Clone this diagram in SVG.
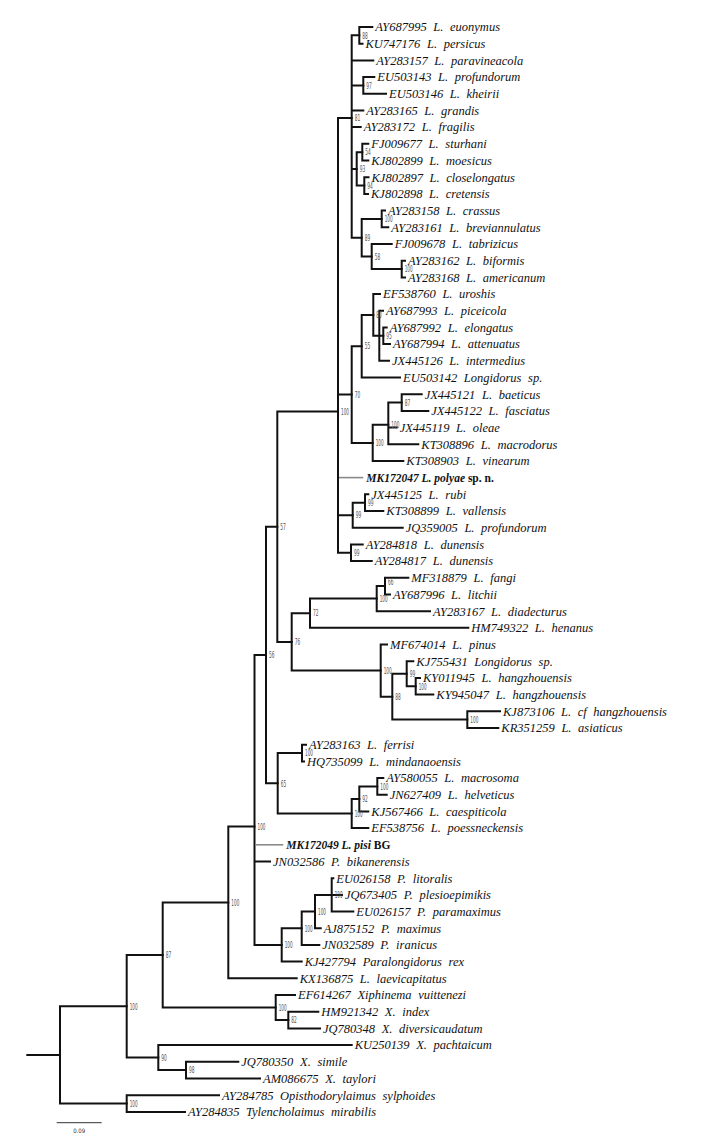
<svg xmlns="http://www.w3.org/2000/svg" width="726" height="1141" viewBox="0 0 726 1141">
<style>
.b{fill:none;stroke:#111;stroke-width:2;stroke-linecap:square}
.g{fill:none;stroke:#8a8a8a;stroke-width:1.6}
.t{font-family:"Liberation Serif","Times New Roman",serif;font-style:italic;font-size:12.5px;word-spacing:3.5px;fill:#111}
.k{font-family:"Liberation Serif","Times New Roman",serif;font-style:italic;font-weight:bold;font-size:11.5px;fill:#111}
.k tspan{font-style:normal}
.s{font-family:"DejaVu Sans Condensed","DejaVu Sans",sans-serif;font-size:9px;fill:#555}
.sc{font-family:"DejaVu Sans Condensed","DejaVu Sans",sans-serif;font-size:6px;fill:#333}
</style>
<rect width="726" height="1141" fill="#fff"/>
<g id="connectors">
<path class="b" d="M27.3,1054.9H60M60,1006.3V1103.5M60,1006.3H126.7M60,1103.5H126.7"/>
<path class="b" d="M126.7,1095.2V1111.9M126.7,1095.2H219M126.7,1111.9H185"/>
<path class="b" d="M126.7,955V1057.6M126.7,955H162.7M126.7,1057.6H158.3"/>
<path class="b" d="M158.3,1045.1V1070.1M158.3,1045.1H351.7M158.3,1070.1H186"/>
<path class="b" d="M186,1061.8V1078.5M186,1061.8H238.3M186,1078.5H260"/>
<path class="b" d="M162.7,902.5V1007.5M162.7,902.5H228.3M162.7,1007.5H275.7"/>
<path class="b" d="M275.7,995V1020.1M275.7,995H295M275.7,1020.1H288.3"/>
<path class="b" d="M288.3,1011.7V1028.4M288.3,1011.7H318.3M288.3,1028.4H320"/>
<path class="b" d="M228.3,826.6V978.3M228.3,826.6H254.5M228.3,978.3H296.7"/>
<path class="b" d="M254.5,655V945M254.5,655H266M254.5,861.5H270M254.5,945H281.7"/>
<path class="g" d="M255.5,844.8H283.3"/>
<path class="b" d="M281.7,928.3V961.6M281.7,928.3H301.7M281.7,961.6H301.7"/>
<path class="b" d="M301.7,911.6V945M301.7,911.6H315M301.7,945H319.3"/>
<path class="b" d="M315,894.9V928.3M315,894.9H331.7M315,928.3H320.7"/>
<path class="b" d="M331.7,878.2V911.6M331.7,878.2H333.3M331.7,894.9H342M331.7,911.6H353.3"/>
<path class="b" d="M266,526.8V783.3M266,526.8H277.3M266,783.3H277.7"/>
<path class="b" d="M277.7,753V813.5M277.7,753H302M277.7,813.5H351.7"/>
<path class="b" d="M302,744.7V761.4M302,744.7H306M302,761.4H304"/>
<path class="b" d="M351.7,798.9V828.1M351.7,798.9H359.3M351.7,828.1H368.3"/>
<path class="b" d="M359.3,786.4V811.4M359.3,786.4H377.3M359.3,811.4H368.3"/>
<path class="b" d="M377.3,778.1V794.7M377.3,778.1H383.3M377.3,794.7H386.7"/>
<path class="b" d="M277.3,411.6V641.9M277.3,411.6H338M277.3,641.9H291.7"/>
<path class="b" d="M291.7,613.2V670.6M291.7,613.2H310M291.7,670.6H380.7"/>
<path class="b" d="M310,598.6V627.8M310,598.6H376.7M310,627.8H468.3"/>
<path class="b" d="M376.7,586.1V611.2M376.7,586.1H385M376.7,611.2H430"/>
<path class="b" d="M385,577.8V594.5M385,577.8H408.3M385,594.5H390"/>
<path class="b" d="M380.7,644.5V696.7M380.7,644.5H387M380.7,696.7H392.3"/>
<path class="b" d="M392.3,673.7V719.6M392.3,673.7H406.7M392.3,719.6H467.3"/>
<path class="b" d="M406.7,661.2V686.3M406.7,661.2H413.3M406.7,686.3H415.7"/>
<path class="b" d="M415.7,677.9V694.6M415.7,677.9H420M415.7,694.6H433.3"/>
<path class="b" d="M467.3,711.3V728M467.3,711.3H500M467.3,728H498.3"/>
<path class="b" d="M338,117.9V552.7M338,117.9H351.7M338,394.5H351.7M338,515.2H352.7M338,552.7H351"/>
<path class="g" d="M339,477.6H363.3"/>
<path class="b" d="M351,544.4V561.1M351,544.4H362.7M351,561.1H371.7"/>
<path class="b" d="M352.7,502.7V527.7M352.7,502.7H365M352.7,527.7H402.7"/>
<path class="b" d="M365,494.3V511M365,494.3H368.3M365,511H383.3"/>
<path class="b" d="M351.7,346.2V442.9M351.7,346.2H361.7M351.7,442.9H372.7"/>
<path class="b" d="M372.7,424.8V460.9M372.7,424.8H388.3M372.7,460.9H403.3"/>
<path class="b" d="M388.3,402.5V444.3M388.3,402.5H401.7M388.3,427.6H396.7M388.3,444.3H418.3"/>
<path class="b" d="M401.7,394.2V410.9M401.7,394.2H421.7M401.7,410.9H428.3"/>
<path class="b" d="M361.7,314.9V377.5M361.7,314.9H373.3M361.7,377.5H400"/>
<path class="b" d="M373.3,294V335.8M373.3,294H380M373.3,335.8H379.3"/>
<path class="b" d="M379.3,310.7V360.8M379.3,310.7H383M379.3,335.8H383.3M379.3,360.8H389"/>
<path class="b" d="M383.3,327.4V344.1M383.3,327.4H386.7M383.3,344.1H390"/>
<path class="b" d="M351.7,35.3V237.7M351.7,35.3H359.3M351.7,60.4H373.3M351.7,85.4H363.3M351.7,110.5H363.3M351.7,127.1H360.7M351.7,168.9H356.7M351.7,237.7H361.7"/>
<path class="b" d="M359.3,27V43.7M359.3,27H372.3M359.3,43.7H362.5"/>
<path class="b" d="M363.3,77.1V93.8M363.3,77.1H374.3M363.3,93.8H386"/>
<path class="b" d="M356.7,152.2V185.6M356.7,152.2H362.3M356.7,185.6H364.3"/>
<path class="b" d="M362.3,143.8V160.5M362.3,143.8H368.3M362.3,160.5H368.3"/>
<path class="b" d="M364.3,177.2V193.9M364.3,177.2H368.5M364.3,193.9H368"/>
<path class="b" d="M361.7,218.9V256.5M361.7,218.9H381.7M361.7,256.5H371.7"/>
<path class="b" d="M381.7,210.6V227.3M381.7,210.6H385M381.7,227.3H388.3"/>
<path class="b" d="M371.7,244V269M371.7,244H391.7M371.7,269H401.7"/>
<path class="b" d="M401.7,260.7V277.4M401.7,260.7H405M401.7,277.4H405"/>
</g>
<g id="tips">
<g id="tip01"><text class="t" x="375.3" y="31.3">AY687995 L. euonymus</text></g>
<g id="tip02"><text class="t" x="365.5" y="48">KU747176 L. persicus</text></g>
<g id="tip03"><text class="t" x="376.3" y="64.7">AY283157 L. paravineacola</text></g>
<g id="tip04"><text class="t" x="377.3" y="81.4">EU503143 L. profundorum</text></g>
<g id="tip05"><text class="t" x="389" y="98.1">EU503146 L. kheirii</text></g>
<g id="tip06"><text class="t" x="366.3" y="114.8">AY283165 L. grandis</text></g>
<g id="tip07"><text class="t" x="363.7" y="131.4">AY283172 L. fragilis</text></g>
<g id="tip08"><text class="t" x="371.3" y="148.1">FJ009677 L. sturhani</text></g>
<g id="tip09"><text class="t" x="371.3" y="164.8">KJ802899 L. moesicus</text></g>
<g id="tip10"><text class="t" x="371.5" y="181.5">KJ802897 L. closelongatus</text></g>
<g id="tip11"><text class="t" x="371" y="198.2">KJ802898 L. cretensis</text></g>
<g id="tip12"><text class="t" x="388" y="214.9">AY283158 L. crassus</text></g>
<g id="tip13"><text class="t" x="391.3" y="231.6">AY283161 L. breviannulatus</text></g>
<g id="tip14"><text class="t" x="394.7" y="248.3">FJ009678 L. tabrizicus</text></g>
<g id="tip15"><text class="t" x="408" y="265">AY283162 L. biformis</text></g>
<g id="tip16"><text class="t" x="408" y="281.7">AY283168 L. americanum</text></g>
<g id="tip17"><text class="t" x="383" y="298.3">EF538760 L. uroshis</text></g>
<g id="tip18"><text class="t" x="386" y="315">AY687993 L. piceicola</text></g>
<g id="tip19"><text class="t" x="389.7" y="331.7">AY687992 L. elongatus</text></g>
<g id="tip20"><text class="t" x="393" y="348.4">AY687994 L. attenuatus</text></g>
<g id="tip21"><text class="t" x="392" y="365.1">JX445126 L. intermedius</text></g>
<g id="tip22"><text class="t" x="403" y="381.8">EU503142 Longidorus sp.</text></g>
<g id="tip23"><text class="t" x="424.7" y="398.5">JX445121 L. baeticus</text></g>
<g id="tip24"><text class="t" x="431.3" y="415.2">JX445122 L. fasciatus</text></g>
<g id="tip25"><text class="t" x="399.7" y="431.9">JX445119 L. oleae</text></g>
<g id="tip26"><text class="t" x="421.3" y="448.6">KT308896 L. macrodorus</text></g>
<g id="tip27"><text class="t" x="406.3" y="465.2">KT308903 L. vinearum</text></g>
<g id="tip28"><text class="k" x="366.3" y="481.9">MK172047 L. polyae <tspan>sp. n.</tspan></text></g>
<g id="tip29"><text class="t" x="371.3" y="498.6">JX445125 L. rubi</text></g>
<g id="tip30"><text class="t" x="386.3" y="515.3">KT308899 L. vallensis</text></g>
<g id="tip31"><text class="t" x="405.7" y="532">JQ359005 L. profundorum</text></g>
<g id="tip32"><text class="t" x="365.7" y="548.7">AY284818 L. dunensis</text></g>
<g id="tip33"><text class="t" x="374.7" y="565.4">AY284817 L. dunensis</text></g>
<g id="tip34"><text class="t" x="411.3" y="582.1">MF318879 L. fangi</text></g>
<g id="tip35"><text class="t" x="393" y="598.8">AY687996 L. litchii</text></g>
<g id="tip36"><text class="t" x="433" y="615.5">AY283167 L. diadecturus</text></g>
<g id="tip37"><text class="t" x="471.3" y="632.1">HM749322 L. henanus</text></g>
<g id="tip38"><text class="t" x="390" y="648.8">MF674014 L. pinus</text></g>
<g id="tip39"><text class="t" x="416.3" y="665.5">KJ755431 Longidorus sp.</text></g>
<g id="tip40"><text class="t" x="423" y="682.2">KY011945 L. hangzhouensis</text></g>
<g id="tip41"><text class="t" x="436.3" y="698.9">KY945047 L. hangzhouensis</text></g>
<g id="tip42"><text class="t" x="503" y="715.6">KJ873106 L. cf hangzhouensis</text></g>
<g id="tip43"><text class="t" x="501.3" y="732.3">KR351259 L. asiaticus</text></g>
<g id="tip44"><text class="t" x="309" y="749">AY283163 L. ferrisi</text></g>
<g id="tip45"><text class="t" x="307" y="765.7">HQ735099 L. mindanaoensis</text></g>
<g id="tip46"><text class="t" x="386.3" y="782.4">AY580055 L. macrosoma</text></g>
<g id="tip47"><text class="t" x="389.7" y="799">JN627409 L. helveticus</text></g>
<g id="tip48"><text class="t" x="371.3" y="815.7">KJ567466 L. caespiticola</text></g>
<g id="tip49"><text class="t" x="371.3" y="832.4">EF538756 L. poessneckensis</text></g>
<g id="tip50"><text class="k" x="286.3" y="849.1">MK172049 L. pisi <tspan>BG</tspan></text></g>
<g id="tip51"><text class="t" x="273" y="865.8">JN032586 P. bikanerensis</text></g>
<g id="tip52"><text class="t" x="336.3" y="882.5">EU026158 P. litoralis</text></g>
<g id="tip53"><text class="t" x="345" y="899.2">JQ673405 P. plesioepimikis</text></g>
<g id="tip54"><text class="t" x="356.3" y="915.9">EU026157 P. paramaximus</text></g>
<g id="tip55"><text class="t" x="323.7" y="932.6">AJ875152 P. maximus</text></g>
<g id="tip56"><text class="t" x="322.3" y="949.3">JN032589 P. iranicus</text></g>
<g id="tip57"><text class="t" x="304.7" y="965.9">KJ427794 Paralongidorus rex</text></g>
<g id="tip58"><text class="t" x="299.7" y="982.6">KX136875 L. laevicapitatus</text></g>
<g id="tip59"><text class="t" x="298" y="999.3">EF614267 Xiphinema vuittenezi</text></g>
<g id="tip60"><text class="t" x="321.3" y="1016">HM921342 X. index</text></g>
<g id="tip61"><text class="t" x="323" y="1032.7">JQ780348 X. diversicaudatum</text></g>
<g id="tip62"><text class="t" x="354.7" y="1049.4">KU250139 X. pachtaicum</text></g>
<g id="tip63"><text class="t" x="241.3" y="1066.1">JQ780350 X. simile</text></g>
<g id="tip64"><text class="t" x="263" y="1082.8">AM086675 X. taylori</text></g>
<g id="tip65"><text class="t" x="222" y="1099.5">AY284785 Opisthodorylaimus sylphoides</text></g>
<g id="tip66"><text class="t" x="188" y="1116.2">AY284835 Tylencholaimus mirabilis</text></g>
</g>
<g id="supports">
<g id="n88a"><text class="s" x="362.3" y="38.5" textLength="5.5" lengthAdjust="spacingAndGlyphs">88</text></g>
<g id="n97"><text class="s" x="366.3" y="88.6" textLength="5.5" lengthAdjust="spacingAndGlyphs">97</text></g>
<g id="n81"><text class="s" x="354.7" y="121.1" textLength="5.5" lengthAdjust="spacingAndGlyphs">81</text></g>
<g id="n54"><text class="s" x="365.3" y="155.4" textLength="5.5" lengthAdjust="spacingAndGlyphs">54</text></g>
<g id="n93"><text class="s" x="359.7" y="172.1" textLength="5.5" lengthAdjust="spacingAndGlyphs">93</text></g>
<g id="n94"><text class="s" x="367.3" y="188.8" textLength="5.5" lengthAdjust="spacingAndGlyphs">94</text></g>
<g id="n100crassus"><text class="s" x="384.7" y="222.1" textLength="8" lengthAdjust="spacingAndGlyphs">100</text></g>
<g id="n89"><text class="s" x="364.7" y="240.9" textLength="5.5" lengthAdjust="spacingAndGlyphs">89</text></g>
<g id="n58"><text class="s" x="374.7" y="259.7" textLength="5.5" lengthAdjust="spacingAndGlyphs">58</text></g>
<g id="n100biformis"><text class="s" x="404.7" y="272.2" textLength="8" lengthAdjust="spacingAndGlyphs">100</text></g>
<g id="n80"><text class="s" x="376.3" y="318.1" textLength="5.5" lengthAdjust="spacingAndGlyphs">80</text></g>
<g id="n95"><text class="s" x="386.3" y="339" textLength="5.5" lengthAdjust="spacingAndGlyphs">95</text></g>
<g id="n55"><text class="s" x="364.7" y="349.4" textLength="5.5" lengthAdjust="spacingAndGlyphs">55</text></g>
<g id="n70"><text class="s" x="354.7" y="397.7" textLength="5.5" lengthAdjust="spacingAndGlyphs">70</text></g>
<g id="n87a"><text class="s" x="404.7" y="405.7" textLength="5.5" lengthAdjust="spacingAndGlyphs">87</text></g>
<g id="n100oleae"><text class="s" x="391.3" y="428" textLength="8" lengthAdjust="spacingAndGlyphs">100</text></g>
<g id="n100vinearum"><text class="s" x="375.7" y="446.1" textLength="8" lengthAdjust="spacingAndGlyphs">100</text></g>
<g id="n100longidorus"><text class="s" x="341" y="414.8" textLength="8" lengthAdjust="spacingAndGlyphs">100</text></g>
<g id="n99rubi"><text class="s" x="368" y="505.9" textLength="5.5" lengthAdjust="spacingAndGlyphs">99</text></g>
<g id="n99profundorum"><text class="s" x="355.7" y="518.4" textLength="5.5" lengthAdjust="spacingAndGlyphs">99</text></g>
<g id="n99dunensis"><text class="s" x="354" y="555.9" textLength="5.5" lengthAdjust="spacingAndGlyphs">99</text></g>
<g id="n57"><text class="s" x="280.3" y="530" textLength="5.5" lengthAdjust="spacingAndGlyphs">57</text></g>
<g id="n66"><text class="s" x="388" y="585" textLength="5.5" lengthAdjust="spacingAndGlyphs">66</text></g>
<g id="n100litchii"><text class="s" x="379.7" y="601.8" textLength="8" lengthAdjust="spacingAndGlyphs">100</text></g>
<g id="n72"><text class="s" x="313" y="616.4" textLength="5.5" lengthAdjust="spacingAndGlyphs">72</text></g>
<g id="n76"><text class="s" x="294.7" y="645.1" textLength="5.5" lengthAdjust="spacingAndGlyphs">76</text></g>
<g id="n100pinus"><text class="s" x="383.7" y="673.8" textLength="8" lengthAdjust="spacingAndGlyphs">100</text></g>
<g id="n99hang"><text class="s" x="409.7" y="676.9" textLength="5.5" lengthAdjust="spacingAndGlyphs">99</text></g>
<g id="n100hang"><text class="s" x="418.7" y="689.5" textLength="8" lengthAdjust="spacingAndGlyphs">100</text></g>
<g id="n88b"><text class="s" x="395.3" y="699.9" textLength="5.5" lengthAdjust="spacingAndGlyphs">88</text></g>
<g id="n100asiaticus"><text class="s" x="470.3" y="722.8" textLength="8" lengthAdjust="spacingAndGlyphs">100</text></g>
<g id="n56"><text class="s" x="269" y="658.2" textLength="5.5" lengthAdjust="spacingAndGlyphs">56</text></g>
<g id="n100ferrisi"><text class="s" x="305" y="756.2" textLength="8" lengthAdjust="spacingAndGlyphs">100</text></g>
<g id="n65"><text class="s" x="280.7" y="786.5" textLength="5.5" lengthAdjust="spacingAndGlyphs">65</text></g>
<g id="n100macrosoma"><text class="s" x="380.3" y="789.6" textLength="8" lengthAdjust="spacingAndGlyphs">100</text></g>
<g id="n92"><text class="s" x="362.3" y="802.1" textLength="5.5" lengthAdjust="spacingAndGlyphs">92</text></g>
<g id="n100caespiticola"><text class="s" x="354.7" y="816.7" textLength="8" lengthAdjust="spacingAndGlyphs">100</text></g>
<g id="n100pisi"><text class="s" x="257.5" y="829.8" textLength="8" lengthAdjust="spacingAndGlyphs">100</text></g>
<g id="n100litoralis"><text class="s" x="334.7" y="898.1" textLength="8" lengthAdjust="spacingAndGlyphs">100</text></g>
<g id="n100maximus"><text class="s" x="318" y="914.8" textLength="8" lengthAdjust="spacingAndGlyphs">100</text></g>
<g id="n100iranicus"><text class="s" x="304.7" y="931.5" textLength="8" lengthAdjust="spacingAndGlyphs">100</text></g>
<g id="n100rex"><text class="s" x="284.7" y="948.2" textLength="8" lengthAdjust="spacingAndGlyphs">100</text></g>
<g id="n100laevicapitatus"><text class="s" x="231.3" y="905.7" textLength="8" lengthAdjust="spacingAndGlyphs">100</text></g>
<g id="n87b"><text class="s" x="165.7" y="958.2" textLength="5.5" lengthAdjust="spacingAndGlyphs">87</text></g>
<g id="n100xiphinema"><text class="s" x="278.7" y="1010.7" textLength="8" lengthAdjust="spacingAndGlyphs">100</text></g>
<g id="n82"><text class="s" x="291.3" y="1023.3" textLength="5.5" lengthAdjust="spacingAndGlyphs">82</text></g>
<g id="n100ingroup"><text class="s" x="129.7" y="1009.5" textLength="8" lengthAdjust="spacingAndGlyphs">100</text></g>
<g id="n90"><text class="s" x="161.3" y="1060.8" textLength="5.5" lengthAdjust="spacingAndGlyphs">90</text></g>
<g id="n98"><text class="s" x="189" y="1073.3" textLength="5.5" lengthAdjust="spacingAndGlyphs">98</text></g>
<g id="n100outgroup"><text class="s" x="129.7" y="1106.7" textLength="8" lengthAdjust="spacingAndGlyphs">100</text></g>
</g>
<g id="scalebar">
<path d="M56.7,1122.7H101.7" fill="none" stroke="#333" stroke-width="1"/>
<text class="sc" x="79.2" y="1133" text-anchor="middle">0.09</text>
</g>
</svg>
